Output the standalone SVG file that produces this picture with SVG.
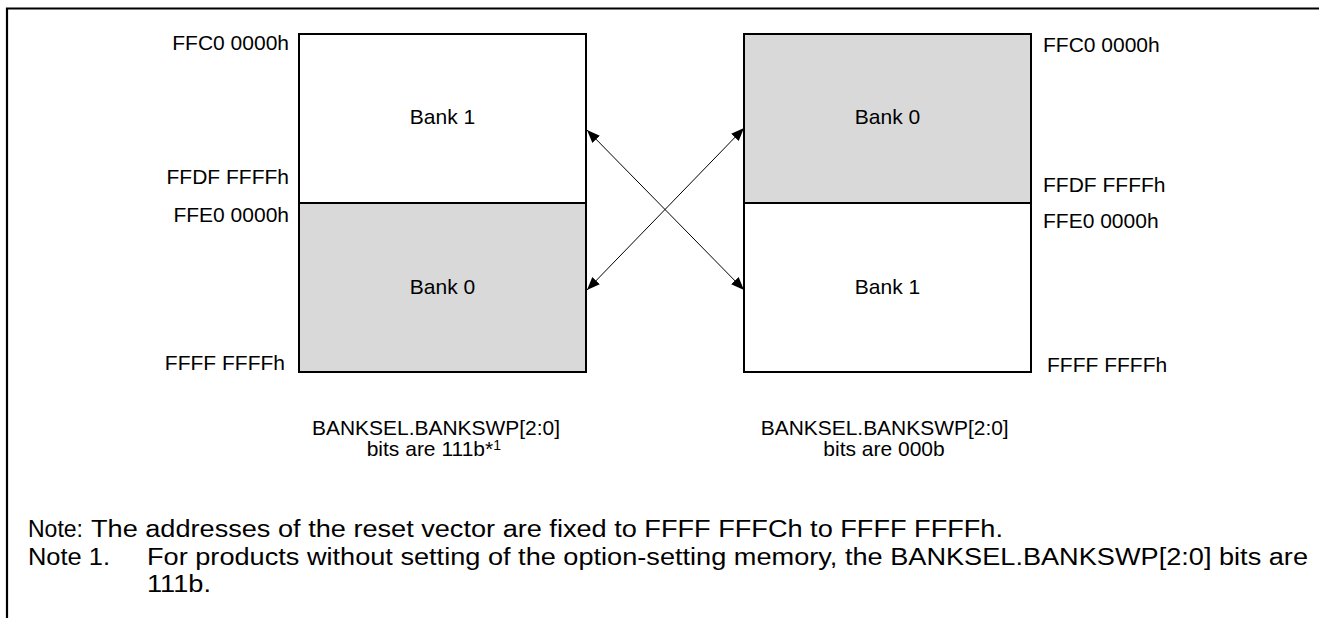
<svg xmlns="http://www.w3.org/2000/svg" width="1319" height="618" viewBox="0 0 1319 618">
<style>
text{font-family:"Liberation Sans",Arial,sans-serif;fill:#000}
.a{font-size:21px}
.b{font-size:21px;text-anchor:middle}
.n{font-size:23px}
.box{stroke:#000;stroke-width:2}
.w{fill:#fff}
.g{fill:#d9d9d9}
.c{stroke:#000;stroke-width:1;fill:none;marker-start:url(#ah);marker-end:url(#ah)}
</style>
<defs>
<marker id="ah" viewBox="0 0 10 10" refX="10" refY="5" markerWidth="13" markerHeight="13" markerUnits="userSpaceOnUse" orient="auto-start-reverse">
<path d="M0,1 L10,5 L0,9 z" fill="#000"/>
</marker>
</defs>
<rect width="1319" height="618" fill="#fff"/>
<path d="M7,618 V8.5 H1319" fill="none" stroke="#000" stroke-width="2.2"/>

<g id="left-map">
<rect class="box w" x="299" y="34" width="287" height="169"/>
<rect class="box g" x="299" y="203" width="287" height="169"/>
<text class="b" x="442.5" y="124">Bank 1</text>
<text class="b" x="442.5" y="294">Bank 0</text>
<text class="a" x="289" y="49.5" text-anchor="end">FFC0 0000h</text>
<text class="a" x="289" y="184" text-anchor="end">FFDF FFFFh</text>
<text class="a" x="289" y="221.5" text-anchor="end">FFE0 0000h</text>
<text class="a" x="285" y="370" text-anchor="end">FFFF FFFFh</text>
<text class="a" x="312" y="435" textLength="248" lengthAdjust="spacingAndGlyphs">BANKSEL.BANKSWP[2:0]</text>
<text class="a" x="366.7" y="456">bits are 111b*<tspan font-size="14" dy="-6">1</tspan></text>
</g>

<g id="right-map">
<rect class="box g" x="744" y="34" width="287" height="169"/>
<rect class="box w" x="744" y="203" width="287" height="169"/>
<text class="b" x="887.5" y="124">Bank 0</text>
<text class="b" x="887.5" y="294">Bank 1</text>
<text class="a" x="1043" y="51.5">FFC0 0000h</text>
<text class="a" x="1043" y="191.5">FFDF FFFFh</text>
<text class="a" x="1043" y="228">FFE0 0000h</text>
<text class="a" x="1047" y="372">FFFF FFFFh</text>
<text class="a" x="760.7" y="435" textLength="248" lengthAdjust="spacingAndGlyphs">BANKSEL.BANKSWP[2:0]</text>
<text class="b" x="884" y="456">bits are 000b</text>
</g>

<g id="connectors">
<line class="c" x1="587" y1="130" x2="744" y2="290"/>
<line class="c" x1="587" y1="290" x2="744" y2="128"/>
</g>

<g id="notes">
<text class="n" x="28" y="537" textLength="55" lengthAdjust="spacingAndGlyphs">Note:</text>
<text class="n" x="91" y="537" textLength="912" lengthAdjust="spacingAndGlyphs">The addresses of the reset vector are fixed to FFFF FFFCh to FFFF FFFFh.</text>
<text class="n" x="28" y="565" textLength="82" lengthAdjust="spacingAndGlyphs">Note 1.</text>
<text class="n" x="147" y="565" textLength="1161" lengthAdjust="spacingAndGlyphs">For products without setting of the option-setting memory, the BANKSEL.BANKSWP[2:0] bits are</text>
<text class="n" x="147" y="592" textLength="64" lengthAdjust="spacingAndGlyphs">111b.</text>
</g>
</svg>
